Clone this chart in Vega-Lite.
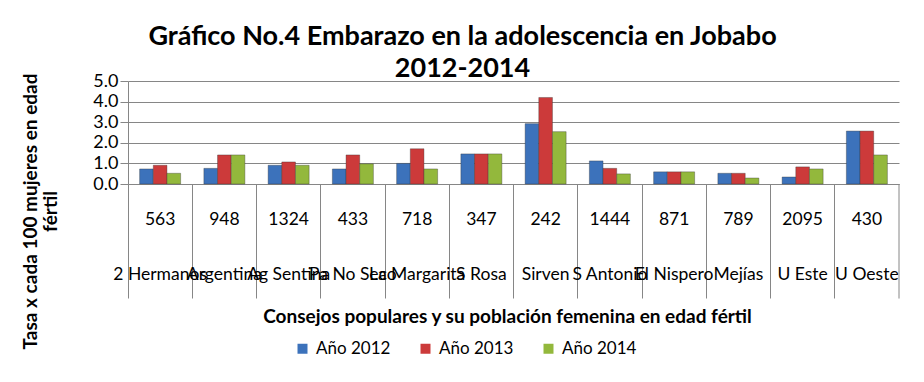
{
  "$schema": "https://vega.github.io/schema/vega-lite/v6.json",
  "autosize": "none",
  "width": 771,
  "height": 103,
  "padding": {"left": 128, "top": 81, "right": 25, "bottom": 198},
  "background": "white",
  "title": {
    "text": ["Gráfico No.4 Embarazo en la adolescencia en Jobabo", "2012-2014"],
    "fontSize": 27,
    "fontWeight": "bold",
    "font": "Lato",
    "color": "black",
    "lineHeight": 32,
    "anchor": "middle",
    "dx": -51,
    "offset": -11
  },
  "config": {
    "font": "Lato",
    "view": {"stroke": null},
    "axis": {"labelColor": "black", "titleColor": "black", "domainColor": "#868686", "tickColor": "#868686", "gridColor": "#868686", "gridOpacity": 1}
  },
  "data": {
    "values": [
      {"cat": "563|2 Hermanos", "year": "Año 2012", "value": 0.73},
      {"cat": "563|2 Hermanos", "year": "Año 2013", "value": 0.91},
      {"cat": "563|2 Hermanos", "year": "Año 2014", "value": 0.52},
      {"cat": "948|Argentina", "year": "Año 2012", "value": 0.76},
      {"cat": "948|Argentina", "year": "Año 2013", "value": 1.41},
      {"cat": "948|Argentina", "year": "Año 2014", "value": 1.41},
      {"cat": "1324|Ag Sentina", "year": "Año 2012", "value": 0.91},
      {"cat": "1324|Ag Sentina", "year": "Año 2013", "value": 1.07},
      {"cat": "1324|Ag Sentina", "year": "Año 2014", "value": 0.91},
      {"cat": "433|Pa No Seco", "year": "Año 2012", "value": 0.73},
      {"cat": "433|Pa No Seco", "year": "Año 2013", "value": 1.41},
      {"cat": "433|Pa No Seco", "year": "Año 2014", "value": 0.98},
      {"cat": "718|La Margarita", "year": "Año 2012", "value": 1.0},
      {"cat": "718|La Margarita", "year": "Año 2013", "value": 1.71},
      {"cat": "718|La Margarita", "year": "Año 2014", "value": 0.73},
      {"cat": "347|S Rosa", "year": "Año 2012", "value": 1.46},
      {"cat": "347|S Rosa", "year": "Año 2013", "value": 1.46},
      {"cat": "347|S Rosa", "year": "Año 2014", "value": 1.46},
      {"cat": "242|Sirven", "year": "Año 2012", "value": 2.93},
      {"cat": "242|Sirven", "year": "Año 2013", "value": 4.2},
      {"cat": "242|Sirven", "year": "Año 2014", "value": 2.54},
      {"cat": "1444|S Antonio", "year": "Año 2012", "value": 1.12},
      {"cat": "1444|S Antonio", "year": "Año 2013", "value": 0.76},
      {"cat": "1444|S Antonio", "year": "Año 2014", "value": 0.49},
      {"cat": "871|El Nispero", "year": "Año 2012", "value": 0.59},
      {"cat": "871|El Nispero", "year": "Año 2013", "value": 0.59},
      {"cat": "871|El Nispero", "year": "Año 2014", "value": 0.59},
      {"cat": "789|Mejías", "year": "Año 2012", "value": 0.52},
      {"cat": "789|Mejías", "year": "Año 2013", "value": 0.52},
      {"cat": "789|Mejías", "year": "Año 2014", "value": 0.29},
      {"cat": "2095|U Este", "year": "Año 2012", "value": 0.34},
      {"cat": "2095|U Este", "year": "Año 2013", "value": 0.83},
      {"cat": "2095|U Este", "year": "Año 2014", "value": 0.73},
      {"cat": "430|U  Oeste", "year": "Año 2012", "value": 2.57},
      {"cat": "430|U  Oeste", "year": "Año 2013", "value": 2.57},
      {"cat": "430|U  Oeste", "year": "Año 2014", "value": 1.41}
    ]
  },
  "layer": [
    {
      "mark": {"type": "bar", "strokeWidth": 0.6, "strokeOpacity": 0.6, "stroke": "#333333"},
      "encoding": {
        "x": {
          "field": "cat",
          "type": "nominal",
          "sort": null,
          "scale": {"paddingInner": 0, "paddingOuter": 0},
          "axis": {
            "title": "Consejos populares y su población femenina en edad fértil",
            "titleFontSize": 19,
            "titleFontWeight": "bold",
            "titleX": 379,
            "titleY": 132,
            "titleBaseline": "middle",
            "labelExpr": "split(datum.label, '|')",
            "labelAngle": 0,
            "labelFontSize": 17.5,
            "labelLineHeight": 55,
            "labelBaseline": "top",
            "labelPadding": -88,
            "labelOverlap": false,
            "labelBound": false,
            "labelLimit": 0,
            "bandPosition": 0,
            "tickSize": 114,
            "ticks": true,
            "domain": true
          }
        },
        "xOffset": {"field": "year", "type": "nominal", "scale": {"paddingOuter": 0.85, "paddingInner": 0}},
        "y": {
          "field": "value",
          "type": "quantitative",
          "scale": {"domain": [0, 5], "nice": false},
          "axis": {
            "title": ["Tasa x cada 100 mujeres en edad", "fértil"],
            "titleFontSize": 19,
            "titleFontWeight": "bold",
            "titleLineHeight": 20,
            "titleX": -107,
            "titleY": 130,
            "titleBaseline": "top",
            "titleAlign": "center",
            "titleAngle": -90,
            "values": [0, 1, 2, 3, 4, 5],
            "format": ".1f",
            "labelFontSize": 18,
            "labelPadding": 2,
            "labelOverlap": false,
            "labelBound": false,
            "tickSize": 8,
            "grid": true
          }
        },
        "color": {
          "field": "year",
          "type": "nominal",
          "scale": {"range": ["#3c72bb", "#cc3a3a", "#93b83c"]},
          "legend": {
            "title": null,
            "orient": "none",
            "direction": "horizontal",
            "legendX": 166,
            "legendY": 259,
            "symbolType": "square",
            "symbolSize": 100,
            "symbolStrokeWidth": 0,
            "labelFontSize": 17,
            "labelColor": "black",
            "columnPadding": 26,
            "labelOffset": 5
          }
        }
      }
    },
    {
      "data": {"values": [{"cat": "430|U  Oeste"}]},
      "mark": {"type": "rule", "color": "#868686", "clip": false},
      "encoding": {
        "x": {"field": "cat", "type": "nominal", "sort": null, "bandPosition": 1},
        "y": {
          "datum": 0,
          "axis": {
            "title": ["Tasa x cada 100 mujeres en edad", "fértil"],
            "titleFontSize": 19,
            "titleFontWeight": "bold",
            "titleLineHeight": 20,
            "titleX": -107,
            "titleY": 130,
            "titleBaseline": "top",
            "titleAlign": "center",
            "titleAngle": -90,
            "values": [0, 1, 2, 3, 4, 5],
            "format": ".1f",
            "labelFontSize": 18,
            "labelPadding": 2,
            "labelOverlap": false,
            "labelBound": false,
            "tickSize": 8,
            "grid": true
          }
        },
        "y2": {"datum": -5.56}
      }
    }
  ]
}
